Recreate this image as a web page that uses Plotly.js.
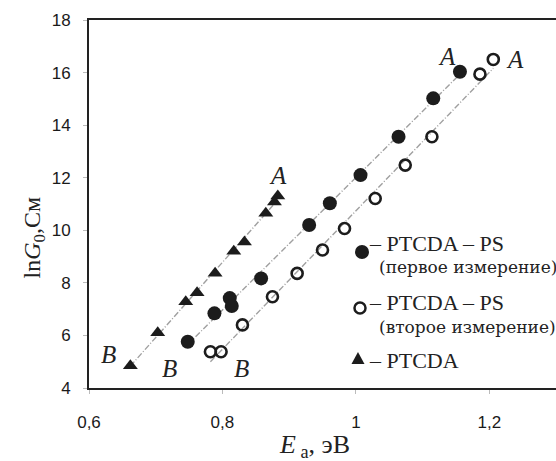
<!DOCTYPE html>
<html><head><meta charset="utf-8">
<script src="https://cdn.plot.ly/plotly-3.0.1.min.js"></script>
<style>html,body{margin:0;padding:0;background:#fff}</style>
</head><body>
<div id="chart" style="width:556px;height:461px"></div>
<script>
// PTCDA (triangles)
const triX = [0.662, 0.703, 0.745, 0.762, 0.789, 0.817, 0.833, 0.865, 0.878, 0.883];
const triY = [4.85, 6.10, 7.28, 7.62, 8.37, 9.20, 9.55, 10.65, 11.08, 11.30];
// PTCDA – PS, first measurement (filled circles)
const fillX = [0.748, 0.788, 0.811, 0.814, 0.858, 0.930, 0.961, 1.007, 1.064, 1.116, 1.156];
const fillY = [5.76, 6.84, 7.42, 7.12, 8.17, 10.20, 11.03, 12.10, 13.56, 15.02, 16.03];
// PTCDA – PS, second measurement (open circles)
const openX = [0.782, 0.798, 0.830, 0.875, 0.912, 0.950, 0.983, 1.029, 1.074, 1.114, 1.186, 1.206];
const openY = [5.38, 5.38, 6.40, 7.47, 8.36, 9.25, 10.07, 11.21, 12.48, 13.56, 15.94, 16.50];

const xTicks = [0.6, 0.8, 1.0, 1.2];
const yTicks = [4, 6, 8, 10, 12, 14, 16, 18];

const legendLine1 = ['– PTCDA – PS', '– PTCDA – PS', '– PTCDA'];
const legendLine2 = ['(первое измерение)', '(второе измерение)'];

function fit(xs, ys) {
  const n = xs.length;
  const mx = xs.reduce((a, b) => a + b, 0) / n;
  const my = ys.reduce((a, b) => a + b, 0) / n;
  let sxy = 0, sxx = 0;
  for (let i = 0; i < n; i++) { sxy += (xs[i] - mx) * (ys[i] - my); sxx += (xs[i] - mx) ** 2; }
  const k = sxy / sxx, b = my - k * mx;
  const x0 = Math.min(...xs), x1 = Math.max(...xs);
  return { x: [x0, x1], y: [k * x0 + b, k * x1 + b] };
}

const ink = '#1c1c1c';
const lineStyle = { color: '#a0a0a0', width: 1.4, dash: '6px,2px,1px,2px' };
const fT = fit(triX, triY), fF = fit(fillX, fillY), fO = fit(openX, openY);

const serif = 'Liberation Serif';
const sans = 'Liberation Sans';
const traces = [
  { x: fT.x, y: fT.y, mode: 'lines', line: lineStyle, showlegend: false, hoverinfo: 'skip' },
  { x: fF.x, y: fF.y, mode: 'lines', line: lineStyle, showlegend: false, hoverinfo: 'skip' },
  { x: fO.x, y: fO.y, mode: 'lines', line: lineStyle, showlegend: false, hoverinfo: 'skip' },
  { x: fillX, y: fillY, mode: 'markers', name: legendLine1[0] + ' ' + legendLine2[0], showlegend: false,
    marker: { symbol: 'circle', size: 14, color: ink } },
  { x: openX, y: openY, mode: 'markers', name: legendLine1[1] + ' ' + legendLine2[1], showlegend: false,
    marker: { symbol: 'circle-open', size: 11, color: ink, line: { width: 2.6, color: ink } } },
  { x: triX, y: triY, mode: 'markers', name: legendLine1[2], showlegend: false,
    marker: { symbol: 'triangle-up', size: 13, color: ink } }
];

const ann = (x, y, t) => ({ x, y, xref: 'x', yref: 'y', text: '<i>' + t + '</i>', showarrow: false,
  font: { family: serif, size: 25, color: '#222' } });
const ptxt = (x, y, t, fam, size) => ({ x, y, xref: 'paper', yref: 'paper', xanchor: 'left', yanchor: 'middle',
  text: t, showarrow: false, font: { family: fam, size, color: '#222' } });

const layout = {
  width: 556, height: 461,
  margin: { l: 89, r: 0, t: 20, b: 73 },
  paper_bgcolor: '#fff', plot_bgcolor: '#fff',
  font: { family: serif, size: 18, color: '#222' },
  separators: ', ',
  showlegend: false,
  xaxis: {
    range: [0.6, 1.3], tickvals: xTicks, ticks: 'outside', ticklen: 4, tickcolor: '#bbb',
    showline: true, linecolor: '#222', linewidth: 2, mirror: true, showgrid: false, zeroline: false,
    tickfont: { family: sans, size: 17, color: '#1a1a1a' }, ticklabelstandoff: 14
  },
  yaxis: {
    range: [4, 18], tickvals: yTicks, ticks: 'outside', ticklen: 4, tickcolor: '#bbb',
    showline: true, linecolor: '#222', linewidth: 2, showgrid: false, zeroline: false,
    tickfont: { family: sans, size: 17, color: '#1a1a1a' }, ticklabelstandoff: 9
  },
  shapes: [
    { type: 'circle', xref: 'paper', yref: 'paper', x0: 0.5696, x1: 0.5996, y0: 0.3505, y1: 0.3886,
      fillcolor: ink, line: { width: 0 } },
    { type: 'circle', xref: 'paper', yref: 'paper', x0: 0.5685, x1: 0.5921, y0: 0.2024, y1: 0.2323,
      fillcolor: '#fff', line: { width: 2.5, color: ink } },
    { type: 'path', xref: 'paper', yref: 'paper', path: 'M0.5621,0.0652 L0.5899,0.0652 L0.5760,0.0978 Z',
      fillcolor: ink, line: { width: 0 } }
  ],
  annotations: [
    ann(0.884, 12.1, 'A'), ann(1.136, 16.6, 'A'), ann(1.238, 16.48, 'A'),
    ann(0.629, 5.26, 'B'), ann(0.721, 4.75, 'B'), ann(0.828, 4.75, 'B'),
    ptxt(0.596, 0.394, legendLine1[0], serif, 22),
    ptxt(0.617, 0.329, legendLine2[0], 'DejaVu Serif', 17),
    ptxt(0.596, 0.231, legendLine1[1], serif, 22),
    ptxt(0.617, 0.166, legendLine2[1], 'DejaVu Serif', 17),
    ptxt(0.596, 0.076, legendLine1[2], serif, 22),
    { xref: 'paper', yref: 'paper', x: 0.482, y: -0.207, showarrow: false,
      text: '<i>E</i><sub> а</sub>, эВ', font: { family: serif, size: 26, color: '#222' } },
    { xref: 'paper', yref: 'paper', x: -0.155, y: 0.408, showarrow: false, textangle: -90,
      text: 'ln<i>G</i><sub>0</sub>,См', font: { family: serif, size: 24, color: '#222' } }
  ]
};

Plotly.newPlot('chart', traces, layout, { displayModeBar: false, staticPlot: true });
</script>
</body></html>
